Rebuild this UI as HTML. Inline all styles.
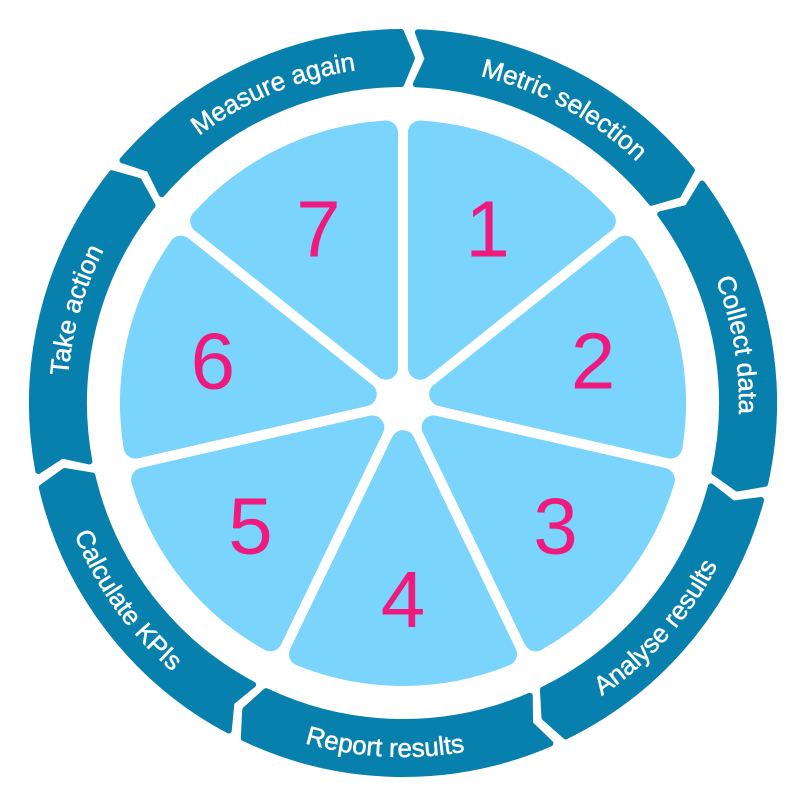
<!DOCTYPE html>
<html><head><meta charset="utf-8"><style>
html,body{margin:0;padding:0;background:#fff;width:806px;height:806px;overflow:hidden}
svg{display:block}
.lbl{font-family:"Liberation Sans",sans-serif;font-size:26px;fill:#fff;stroke:#fff;stroke-width:0.5}
.num{font-family:"Liberation Sans",sans-serif;font-size:80px;fill:#f0197d;text-anchor:middle}
</style></head><body>
<svg id="s" width="806" height="806" viewBox="0 0 806 806">
<g id="ring"></g>
<g id="wedges"></g>
<defs>
<path id="t0"/><path id="t1"/><path id="t2"/><path id="t3"/><path id="t4"/><path id="t5"/><path id="t6"/>
</defs>
<text class="lbl"><textPath href="#t0" startOffset="50%" text-anchor="middle">Metric selection</textPath></text>
<text class="lbl"><textPath href="#t1" startOffset="50%" text-anchor="middle">Collect data</textPath></text>
<text class="lbl"><textPath href="#t2" startOffset="50%" text-anchor="middle">Analyse results</textPath></text>
<text class="lbl"><textPath href="#t3" startOffset="50%" text-anchor="middle">Report results</textPath></text>
<text class="lbl"><textPath href="#t4" startOffset="50%" text-anchor="middle">Calculate KPIs</textPath></text>
<text class="lbl"><textPath href="#t5" startOffset="50%" text-anchor="middle">Take action</textPath></text>
<text class="lbl"><textPath href="#t6" startOffset="50%" text-anchor="middle">Measure again</textPath></text>
<text class="num" id="n1" x="0" y="0">1</text>
<text class="num" id="n2" x="0" y="0">2</text>
<text class="num" id="n3" x="0" y="0">3</text>
<text class="num" id="n4" x="0" y="0">4</text>
<text class="num" id="n5" x="0" y="0">5</text>
<text class="num" id="n6" x="0" y="0">6</text>
<text class="num" id="n7" x="0" y="0">7</text>
</svg>
<script>
var cx=403,cy=403,D=Math.PI/180,TH=2*Math.PI/7,NS="http://www.w3.org/2000/svg";
function P(a,r){return (cx+r*Math.sin(a)).toFixed(2)+" "+(cy-r*Math.cos(a)).toFixed(2);}
var ring=document.getElementById("ring"),wg=document.getElementById("wedges");
var R=371,r=319,rm=345,off=1*D,g=1.3*D,d=1.8*D;
for(var i=0;i<7;i++){
 var a0=off+i*TH+g,a1=off+(i+1)*TH-g;
 var p="M"+P(a0,R)+" A"+R+" "+R+" 0 0 1 "+P(a1,R)+" L"+P(a1+d,rm)+" L"+P(a1,r)+
  " A"+r+" "+r+" 0 0 0 "+P(a0,r)+" L"+P(a0+d,rm)+" Z";
 var e=document.createElementNS(NS,"path");e.setAttribute("d",p);
 e.setAttribute("fill","#0880ad");e.setAttribute("stroke","#0880ad");e.setAttribute("stroke-width","6");e.setAttribute("stroke-linejoin","round");
 ring.appendChild(e);
 var t=document.getElementById("t"+i),b0=a0+2*D,b1=a1+2*D;
 var ccw=(i>=2&&i<=4);
 if(!ccw){var rb=336;t.setAttribute("d","M"+P(b0,rb)+" A"+rb+" "+rb+" 0 0 1 "+P(b1,rb));}
 else{var rb=354;t.setAttribute("d","M"+P(b1,rb)+" A"+rb+" "+rb+" 0 0 0 "+P(b0,rb));}
}
var WR=271,o=17;
for(var k=0;k<7;k++){
 var a0=k*TH,a1=(k+1)*TH,bis=(a0+a1)/2,s=Math.asin(o/WR);
 var apex=o/Math.sin(TH/2);
 var p="M"+P(bis,apex)+" L"+P(a0+s,WR)+" A"+WR+" "+WR+" 0 0 1 "+P(a1-s,WR)+" Z";
 var e=document.createElementNS(NS,"path");e.setAttribute("d",p);
 e.setAttribute("fill","#7ad4fb");e.setAttribute("stroke","#7ad4fb");e.setAttribute("stroke-width","24");e.setAttribute("stroke-linejoin","round");
 wg.appendChild(e);
 var n=document.getElementById("n"+(k+1));
 n.setAttribute("x",(cx+195*Math.sin(bis)).toFixed(1));
 n.setAttribute("y",(cy-195*Math.cos(bis)+29).toFixed(1));
}
</script>
</body></html>
